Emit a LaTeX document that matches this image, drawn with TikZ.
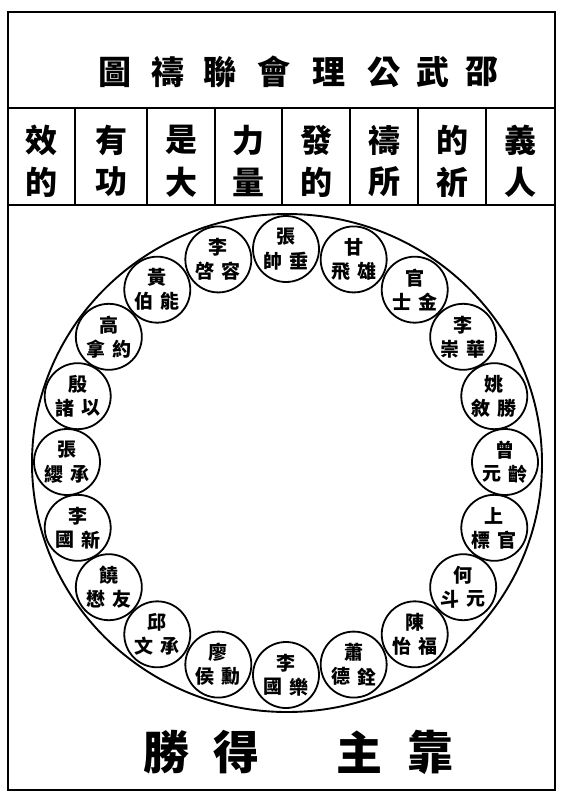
\documentclass[tikz,border=0pt]{standalone}
\usepackage{fontspec}
\newfontfamily\cjk{Noto Sans CJK TC}
\begin{document}
\begin{tikzpicture}[x=1pt,y=-1pt,
  frameline/.style={line width=2.4pt},
  namecircle/.style={circle,draw,line width=1.8pt,minimum size=66pt,inner sep=0pt},
  titlechar/.style={inner sep=0pt,font=\cjk\bfseries\fontsize{33}{33}\selectfont},
  colchar/.style={inner sep=0pt,font=\cjk\bfseries\fontsize{32}{32}\selectfont},
  bigchar/.style={inner sep=0pt,font=\cjk\bfseries\fontsize{46}{46}\selectfont},
  namechar/.style={inner sep=0pt,font=\cjk\bfseries\fontsize{19}{19}\selectfont}]
\useasboundingbox (0,0) rectangle (563,796);
\fill[white] (0,0) rectangle (563,796);
% frame
\draw[frameline] (8,12) rectangle (555,790);
\draw[frameline] (8,108) -- (555,108);
\draw[frameline] (8,205) -- (555,205);
\foreach \x in {75,147,215,282,350,418,486}
  \draw[line width=1.8pt] (\x,108) -- (\x,205);
% title
\foreach \c/\x [count=\i] in {圖/115,禱/168,聯/220,會/274,理/329,公/384,武/433,邵/482}
  \node[titlechar] (title\i) at (\x,72) {\c};
% columns
\foreach \t/\b/\x [count=\i] in {效/的/41,有/功/111,是/大/181,力/量/248,發/的/316,禱/所/384,的/祈/452,義/人/520}{
  \node[colchar] (colt\i) at (\x,140) {\t};
  \node[colchar] (colb\i) at (\x,182) {\b};
}
% big ellipse
\draw[line width=1.9pt] (287,463) ellipse [x radius=255, y radius=249];
% name circles
\foreach \a/\t/\l/\r [count=\i] in {
  90/張/帥/垂, 72/甘/飛/雄, 54/官/士/金, 36/李/崇/華, 18/姚/敘/勝,
  0/曾/元/齡, -18/上/標/官, -36/何/斗/元, -54/陳/怡/福, -72/蕭/德/銓,
  -90/李/國/樂, -108/廖/侯/勳, -126/邱/文/承, -144/饒/懋/友, -162/李/國/新,
  180/張/纓/承, 162/殷/諸/以, 144/高/拿/約, 126/黃/伯/能, 108/李/啓/容}{
  \node[namecircle] (c\i) at ({286+219*cos(\a)},{462-213*sin(\a)}) {};
  \node[namechar] (c\i t) at ([yshift=12pt]c\i.center) {\t};
  \node[namechar] (c\i l) at ([xshift=-13pt,yshift=-12pt]c\i.center) {\l};
  \node[namechar] (c\i r) at ([xshift=13pt,yshift=-12pt]c\i.center) {\r};
}
% bottom motto
\foreach \c/\x [count=\i] in {勝/166,得/236,主/359,靠/430}
  \node[bigchar] (motto\i) at (\x,752) {\c};
\end{tikzpicture}
\end{document}
